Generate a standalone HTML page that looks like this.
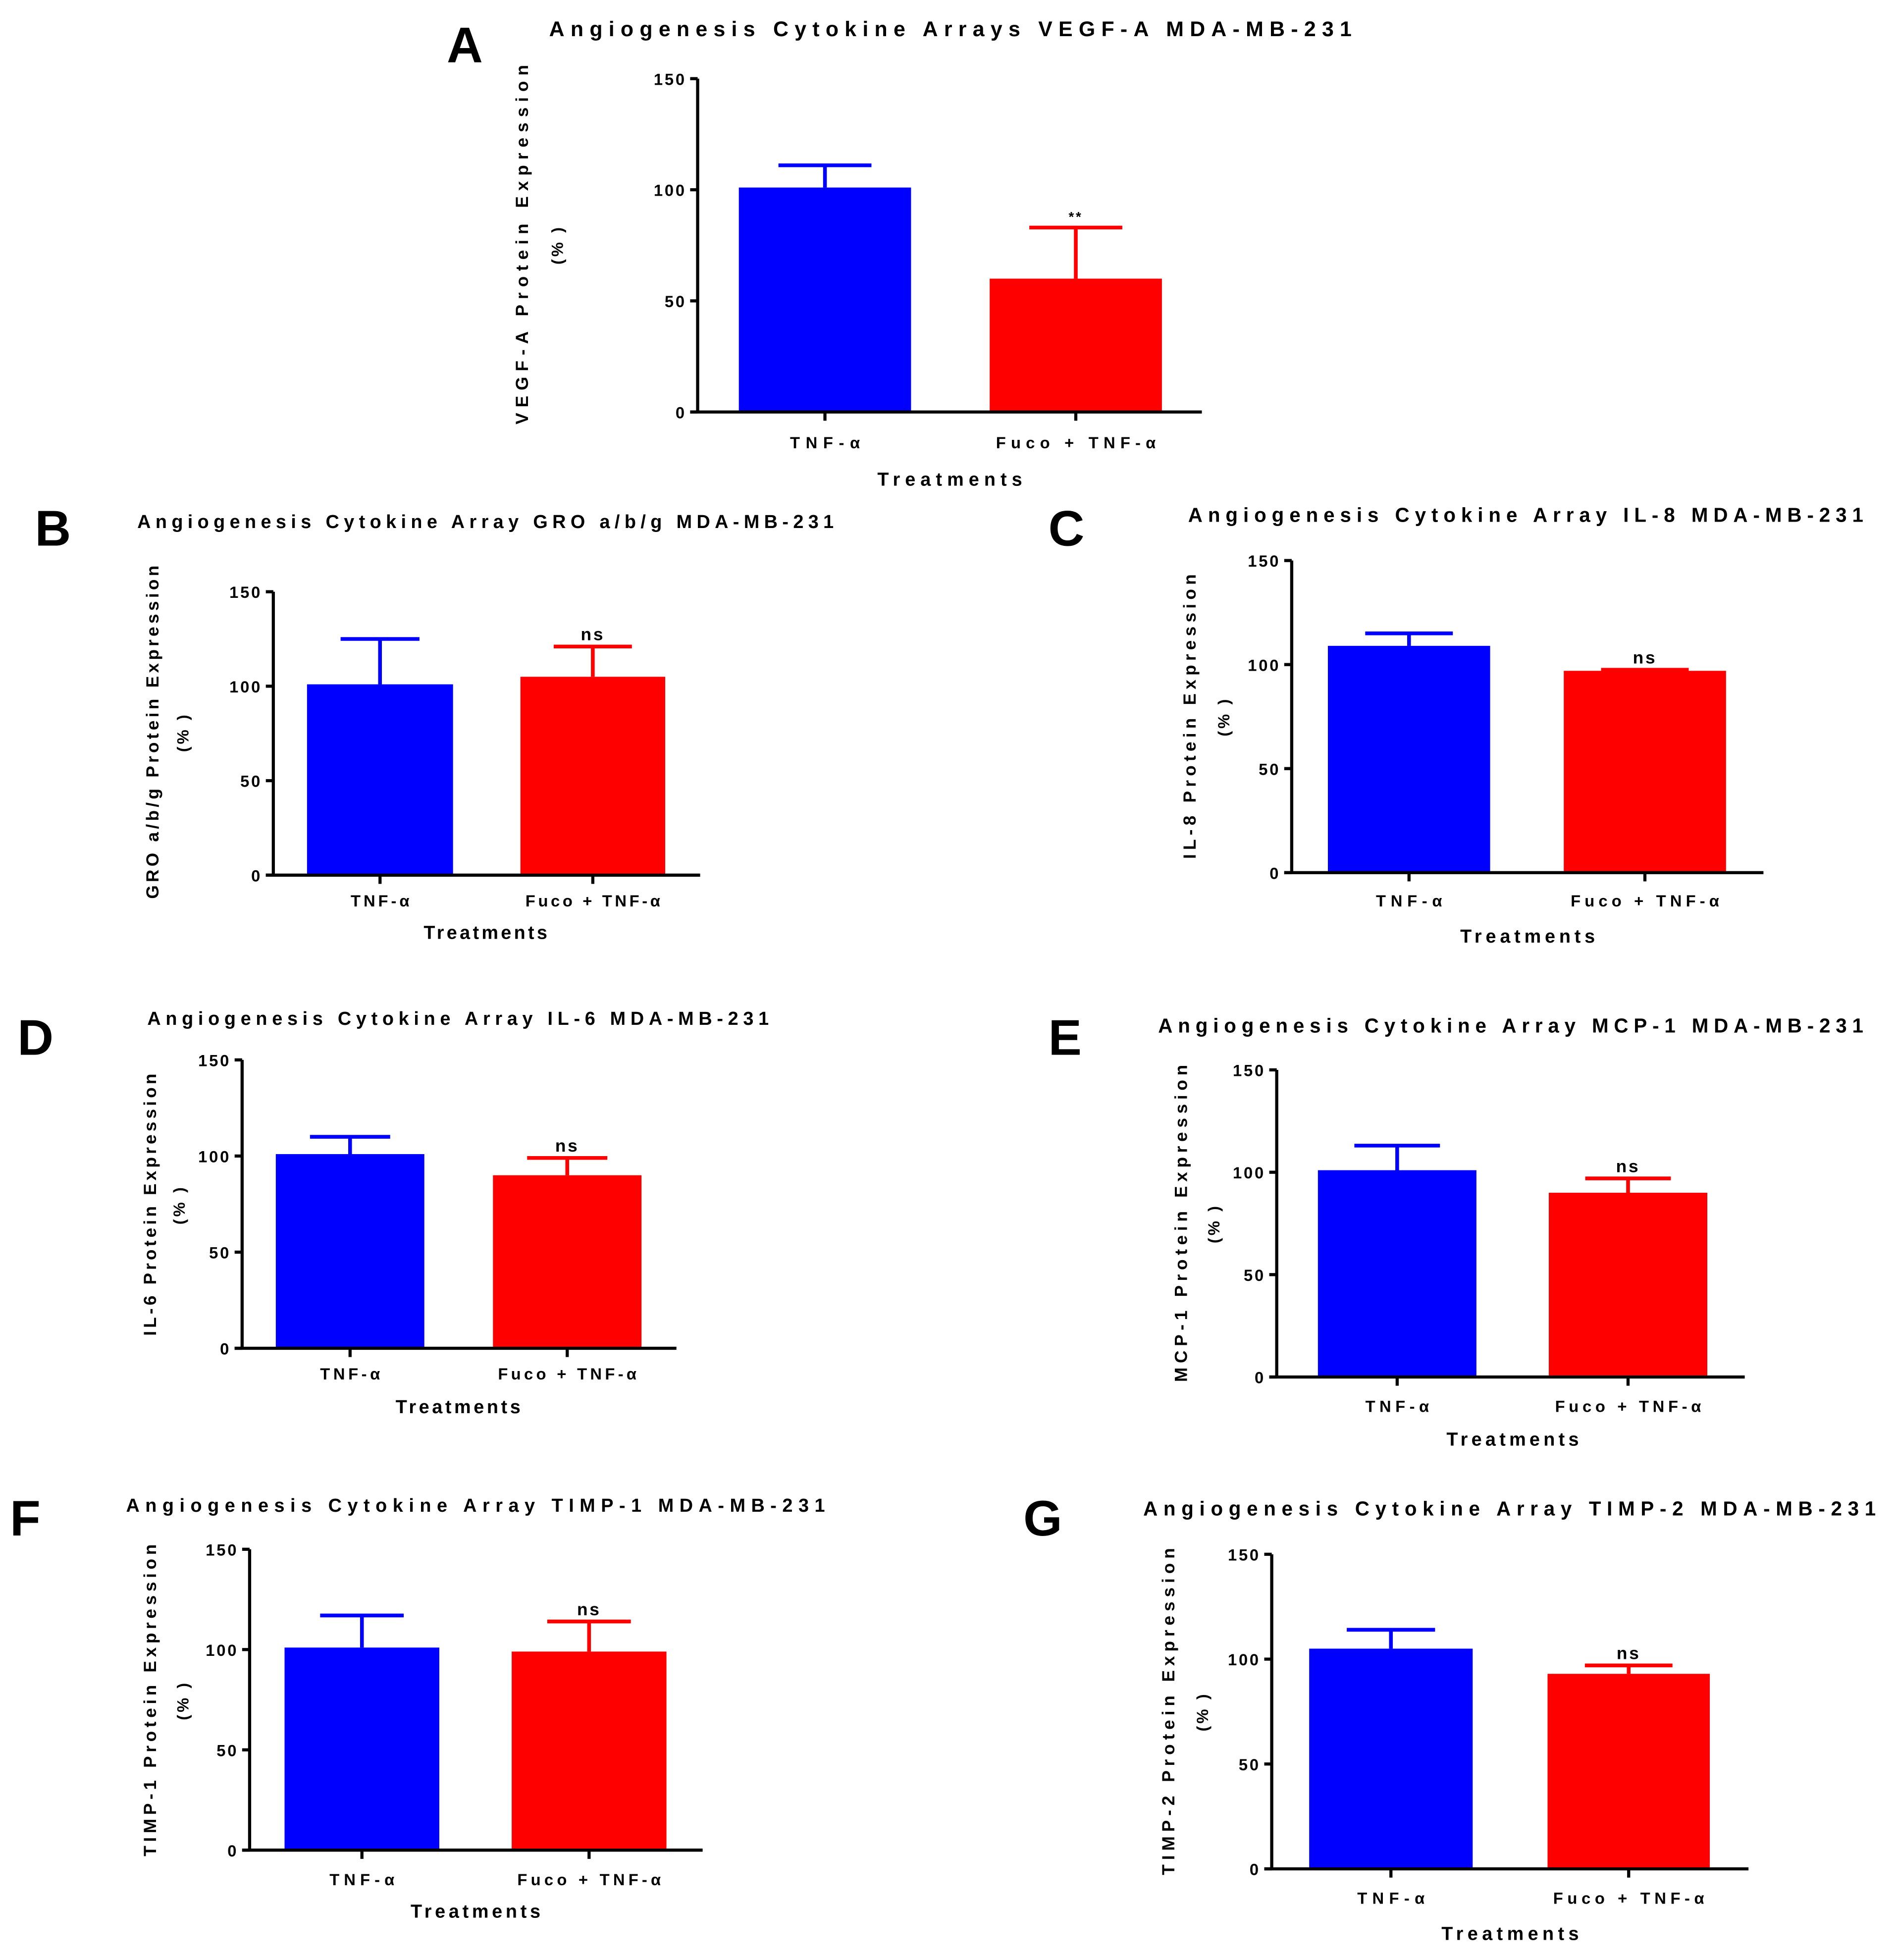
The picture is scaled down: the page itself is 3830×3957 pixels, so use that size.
<!DOCTYPE html>
<html><head><meta charset="utf-8">
<style>
html,body{margin:0;padding:0;background:#fff;}
svg{display:block;}
text{font-family:"Liberation Sans",sans-serif;font-weight:bold;fill:#000;}
</style></head>
<body>
<svg id="fig" width="3830" height="3957" viewBox="0 0 1520 1570" preserveAspectRatio="none" xmlns="http://www.w3.org/2000/svg"></svg>
<script>
// ---- data ----
const categories = ["TNF-α", "Fuco + TNF-α"];
const yTicks = [0, 50, 100, 150];
const panelIds = ["A","B","C","D","E","F","G"];
const panelTitles = [
 "Angiogenesis Cytokine Arrays VEGF-A MDA-MB-231",
 "Angiogenesis Cytokine Array GRO a/b/g MDA-MB-231",
 "Angiogenesis Cytokine Array IL-8 MDA-MB-231",
 "Angiogenesis Cytokine Array IL-6 MDA-MB-231",
 "Angiogenesis Cytokine Array MCP-1 MDA-MB-231",
 "Angiogenesis Cytokine Array TIMP-1 MDA-MB-231",
 "Angiogenesis Cytokine Array TIMP-2 MDA-MB-231"];
const yTitles = ["VEGF-A Protein Expression","GRO a/b/g Protein Expression","IL-8 Protein Expression","IL-6 Protein Expression","MCP-1 Protein Expression","TIMP-1 Protein Expression","TIMP-2 Protein Expression"];
const tnfValues  = [101, 101, 109, 101, 101, 101, 105];
const tnfErrTop  = [111, 125, 115, 110, 113, 117, 114];
const fucoValues = [60, 105, 97, 90, 90, 99, 93];
const fucoErrTop = [83, 121, 97.5, 99, 97, 114, 97];
const sigLabels  = ["**", "ns", "ns", "ns", "ns", "ns", "ns"];

// ---- layout (display coords) ----
const L = [
 {ax:559,top:63,bot:330,x0:553,x1:963,b:[[592,730],[793,931]],lx:440,lx2:1083,ly:23,yt:418,yp:446,yA:52,yB:340,pl:[358,50],tl:354,tr:384,trx:761,tw:116,cw:[56,128],ts:17},
 {ax:219,top:474,bot:701,x0:213,x1:561,b:[[246,363],[417,533]],lx:110,lx2:668,ly:417,yt:122,yp:146,yA:453,yB:720,pl:[28,437],tl:721,tr:747,trx:389,tw:99,cw:[47,108],ts:15},
 {ax:1035,top:449,bot:699,x0:1029,x1:1413,b:[[1064,1194],[1253,1383]],lx:952,lx2:1493,ly:412,yt:953,yp:980,yA:460,yB:688,pl:[840,437],tl:721,tr:750,trx:1224,tw:108,cw:[53,119],ts:16},
 {ax:194,top:849,bot:1080,x0:188,x1:542,b:[[221,340],[395,514]],lx:118,lx2:616,ly:815,yt:120,yp:143,yA:860,yB:1070,pl:[14,845],tl:1100,tr:1127,trx:367,tw:100,cw:[48,111],ts:15},
 {ax:1023,top:857,bot:1103,x0:1017,x1:1398,b:[[1056,1183],[1241,1368]],lx:928,lx2:1493,ly:821,yt:946,yp:972,yA:853,yB:1107,pl:[840,845],tl:1126,tr:1153,trx:1212,tw:106,cw:[51,117],ts:16},
 {ax:200,top:1241,bot:1482,x0:194,x1:563,b:[[228,352],[410,534]],lx:101,lx2:661,ly:1205,yt:120,yp:146,yA:1237,yB:1487,pl:[8,1230],tl:1505,tr:1531,trx:381,tw:104,cw:[52,115],ts:15},
 {ax:1019,top:1245,bot:1497,x0:1013,x1:1401,b:[[1049,1180],[1240,1370]],lx:916,lx2:1503,ly:1208,yt:936,yp:963,yA:1240,yB:1502,pl:[820,1230],tl:1520,tr:1549,trx:1210,tw:110,cw:[54,121],ts:16}
];
const NS="http://www.w3.org/2000/svg";
const svg=document.getElementById('fig');
function mk(tag,attrs,parent,txt){const e=document.createElementNS(NS,tag);for(const k in attrs)e.setAttribute(k,attrs[k]);if(txt!==undefined)e.textContent=txt;parent.appendChild(e);return e;}

panelIds.forEach((id,i)=>{
  const p=L[i];
  const g=mk('g',{},svg);
  
  
  const yScale=v=>p.bot-(v/150)*(p.bot-p.top);
  const mid=(p.yA+p.yB)/2;
  let t;
  t=mk('text',{x:p.pl[0],y:p.pl[1],'font-size':40},g,id);
  
  
  t=mk('text',{x:p.lx,y:p.ly+6,'font-size':p.ts,textLength:p.lx2-p.lx,lengthAdjust:'spacing'},g,panelTitles[i]);
  
  
  t=mk('text',{x:0,y:0,'font-size':14,'text-anchor':'middle',textLength:p.yB-p.yA,lengthAdjust:'spacing',transform:`translate(${p.yt+5},${mid}) rotate(-90)`},g,yTitles[i]);
  
  
  t=mk('text',{x:0,y:0,'font-size':13,'font-weight':'normal','letter-spacing':2,'text-anchor':'middle',transform:`translate(${p.yp+5},${mid}) rotate(-90)`},g,"(% )");
  
  
  const vals=[tnfValues[i],fucoValues[i]], errs=[tnfErrTop[i],fucoErrTop[i]], cols=['#0000ff','#ff0000'];
  vals.forEach((v,j)=>{
    const [a,b]=p.b[j]; const c=(a+b)/2; const w=b-a;
    const r=mk('rect',{x:a,y:yScale(v),width:w,height:p.bot-yScale(v),fill:cols[j]},g);
    
    
    const ey=yScale(errs[j]);
    const e=mk('path',{d:`M${c} ${yScale(v)}V${ey}M${c-w*0.27} ${ey}H${c+w*0.27}`,stroke:cols[j],'stroke-width':3,fill:'none'},g);
    
    
    if(j==1){
      const s=mk('text',{x:c,y:ey-5,'font-size':sigLabels[i]=="**"?11:14,'font-weight':'normal','letter-spacing':1.5,'text-anchor':'middle'},g,sigLabels[i]);
      
      
    }
    const tk=mk('line',{x1:c,x2:c,y1:p.bot,y2:p.bot+7,stroke:'#000','stroke-width':2.5},g);
    
    
    const tl=mk('text',{x:c-p.cw[j]/2,y:p.tl+5,'font-size':13,textLength:p.cw[j],lengthAdjust:'spacing'},g,categories[j]);
    
    
  });
  const ya=mk('line',{x1:p.ax,x2:p.ax,y1:p.top,y2:p.bot,stroke:'#000','stroke-width':2.5},g);
  
  
  const xa=mk('line',{x1:p.x0,x2:p.x1,y1:p.bot,y2:p.bot,stroke:'#000','stroke-width':2.5},g);
  
  
  yTicks.forEach(v=>{
    const y=yScale(v);
    const tk=mk('line',{x1:p.ax-6,x2:p.ax,y1:y,y2:y,stroke:'#000','stroke-width':2.5},g);
    
    
    const tl=mk('text',{x:p.ax-9,y:y+5,'font-size':13,'letter-spacing':1.5,'text-anchor':'end'},g,String(v));
    
    
  });
  const xt=mk('text',{x:p.trx-p.tw/2,y:p.tr+5,'font-size':15,textLength:p.tw,lengthAdjust:'spacing'},g,"Treatments");
  
  
});
</script>
</body></html>
